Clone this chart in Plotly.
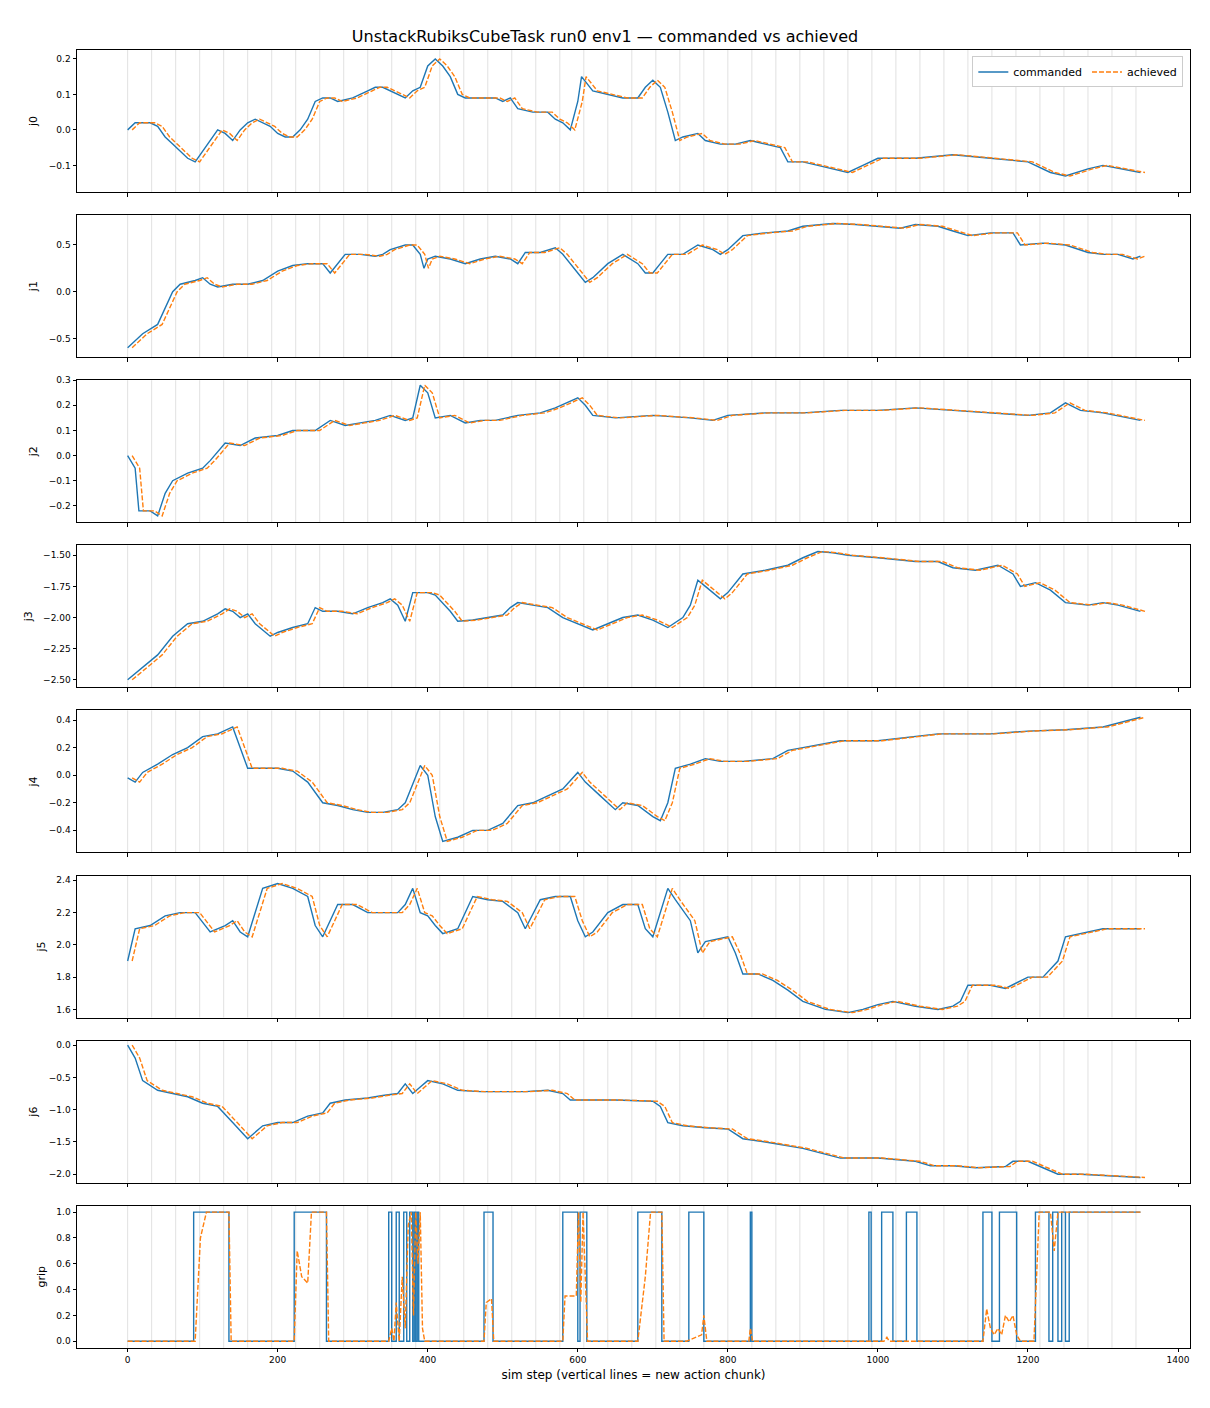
import plotly.graph_objects as go

# ---- data (step, value) ----
j0_x = [0,10,20,30,40,50,60,70,80,90,100,110,120,130,140,150,160,170,180,190,200,210,220,230,240,250,260,270,280,300,320,330,340,350,360,370,380,390,400,410,420,430,440,450,470,490,500,510,520,540,560,570,580,590,600,605,620,640,660,680,690,700,710,720,730,740,760,770,790,810,830,850,870,880,900,920,940,960,980,1000,1050,1100,1150,1200,1230,1250,1280,1300,1350]
j0_y = [0,0.02,0.02,0.02,0.01,-0.02,-0.04,-0.06,-0.08,-0.09,-0.06,-0.03,0.0,-0.01,-0.03,0.0,0.02,0.03,0.02,0.01,-0.01,-0.02,-0.02,0.0,0.03,0.08,0.09,0.09,0.08,0.09,0.11,0.12,0.12,0.11,0.10,0.09,0.11,0.12,0.18,0.2,0.18,0.15,0.1,0.09,0.09,0.09,0.08,0.09,0.06,0.05,0.05,0.03,0.02,0.0,0.08,0.15,0.11,0.1,0.09,0.09,0.12,0.14,0.12,0.05,-0.03,-0.02,-0.01,-0.03,-0.04,-0.04,-0.03,-0.04,-0.05,-0.09,-0.09,-0.1,-0.11,-0.12,-0.1,-0.08,-0.08,-0.07,-0.08,-0.09,-0.12,-0.13,-0.11,-0.1,-0.12]

j1_x = [0,20,40,60,70,90,100,110,120,140,160,180,200,220,240,260,270,280,290,310,330,340,350,370,380,390,395,400,410,430,450,470,490,510,520,530,550,570,580,600,610,620,640,660,680,690,700,710,720,740,760,780,790,800,820,850,880,900,940,970,1000,1030,1050,1080,1100,1120,1150,1180,1190,1220,1250,1280,1300,1320,1340,1350]
j1_y = [-0.6,-0.45,-0.35,0.0,0.08,0.12,0.15,0.08,0.05,0.08,0.08,0.12,0.22,0.28,0.3,0.3,0.2,0.3,0.4,0.4,0.38,0.4,0.45,0.5,0.5,0.4,0.25,0.35,0.38,0.35,0.3,0.35,0.38,0.35,0.3,0.42,0.42,0.47,0.4,0.2,0.1,0.15,0.3,0.4,0.3,0.2,0.2,0.3,0.4,0.4,0.5,0.45,0.4,0.45,0.6,0.63,0.65,0.7,0.73,0.72,0.7,0.68,0.72,0.7,0.65,0.6,0.63,0.63,0.5,0.52,0.5,0.42,0.4,0.4,0.35,0.38]

j2_x = [0,10,15,30,40,50,60,80,100,110,130,150,170,200,220,250,270,290,310,330,350,370,380,390,400,410,430,450,470,490,520,550,570,600,610,620,650,700,750,780,800,850,900,950,1000,1050,1100,1150,1200,1230,1250,1270,1300,1350]
j2_y = [0,-0.05,-0.22,-0.22,-0.24,-0.15,-0.1,-0.07,-0.05,-0.02,0.05,0.04,0.07,0.08,0.1,0.1,0.14,0.12,0.13,0.14,0.16,0.14,0.15,0.28,0.25,0.15,0.16,0.13,0.14,0.14,0.16,0.17,0.19,0.23,0.2,0.16,0.15,0.16,0.15,0.14,0.16,0.17,0.17,0.18,0.18,0.19,0.18,0.17,0.16,0.17,0.21,0.18,0.17,0.14]

j3_x = [0,20,40,60,80,100,120,130,140,150,160,170,190,200,220,240,250,260,280,300,320,340,350,360,370,380,400,410,430,440,460,480,500,510,520,540,560,580,600,620,640,660,680,700,720,740,750,760,770,790,800,820,850,880,900,920,940,960,1000,1050,1080,1100,1130,1160,1180,1190,1210,1230,1250,1280,1300,1320,1350]
j3_y = [-2.5,-2.4,-2.3,-2.15,-2.05,-2.03,-1.97,-1.93,-1.95,-2.0,-1.97,-2.05,-2.15,-2.12,-2.08,-2.05,-1.92,-1.95,-1.95,-1.97,-1.92,-1.88,-1.85,-1.9,-2.03,-1.8,-1.8,-1.82,-1.95,-2.03,-2.02,-2.0,-1.98,-1.92,-1.88,-1.9,-1.92,-2.0,-2.05,-2.1,-2.05,-2.0,-1.98,-2.02,-2.08,-2.0,-1.9,-1.7,-1.75,-1.85,-1.8,-1.65,-1.62,-1.58,-1.52,-1.47,-1.48,-1.5,-1.52,-1.55,-1.55,-1.6,-1.62,-1.58,-1.65,-1.75,-1.72,-1.78,-1.88,-1.9,-1.88,-1.9,-1.95]

j4_x = [0,10,20,40,60,80,100,120,140,150,160,180,200,220,240,260,280,300,320,340,360,370,390,400,410,420,440,460,480,500,520,540,560,580,600,610,630,650,660,680,700,710,720,730,750,770,790,820,860,880,900,950,1000,1050,1080,1100,1150,1200,1250,1300,1350]
j4_y = [-0.02,-0.05,0.02,0.08,0.15,0.2,0.28,0.3,0.35,0.2,0.05,0.05,0.05,0.03,-0.05,-0.2,-0.22,-0.25,-0.27,-0.27,-0.25,-0.2,0.07,0.0,-0.3,-0.48,-0.45,-0.4,-0.4,-0.35,-0.22,-0.2,-0.15,-0.1,0.02,-0.05,-0.15,-0.25,-0.2,-0.22,-0.3,-0.33,-0.2,0.05,0.08,0.12,0.1,0.1,0.12,0.18,0.2,0.25,0.25,0.28,0.3,0.3,0.3,0.32,0.33,0.35,0.42]

j5_x = [0,10,30,50,70,90,110,130,140,150,160,170,180,200,220,240,250,260,270,280,300,320,340,360,370,380,390,400,410,420,440,460,480,500,520,530,550,570,590,600,610,620,640,660,680,690,700,720,730,750,760,770,800,810,820,840,860,880,900,930,960,980,1000,1020,1050,1080,1100,1110,1120,1150,1170,1190,1200,1220,1240,1250,1280,1300,1350]
j5_y = [1.9,2.1,2.12,2.18,2.2,2.2,2.08,2.12,2.15,2.08,2.05,2.2,2.35,2.38,2.35,2.3,2.12,2.05,2.15,2.25,2.25,2.2,2.2,2.2,2.25,2.35,2.2,2.18,2.12,2.07,2.1,2.3,2.28,2.27,2.2,2.1,2.28,2.3,2.3,2.15,2.05,2.08,2.2,2.25,2.25,2.1,2.05,2.35,2.28,2.15,1.95,2.02,2.05,1.95,1.82,1.82,1.78,1.72,1.65,1.6,1.58,1.6,1.63,1.65,1.62,1.6,1.62,1.65,1.75,1.75,1.73,1.78,1.8,1.8,1.9,2.05,2.08,2.1,2.1]

j6_x = [0,10,20,40,60,80,100,120,140,160,180,200,220,240,260,270,290,320,340,360,370,380,390,400,420,440,470,500,530,560,580,590,620,650,700,710,720,740,770,800,820,850,900,950,1000,1050,1070,1100,1130,1170,1180,1200,1220,1240,1270,1300,1350]
j6_y = [0,-0.2,-0.55,-0.7,-0.75,-0.8,-0.9,-0.95,-1.2,-1.45,-1.25,-1.2,-1.2,-1.1,-1.05,-0.9,-0.85,-0.82,-0.78,-0.75,-0.6,-0.75,-0.65,-0.55,-0.6,-0.7,-0.72,-0.72,-0.72,-0.7,-0.75,-0.85,-0.85,-0.85,-0.87,-0.95,-1.2,-1.25,-1.28,-1.3,-1.45,-1.5,-1.6,-1.75,-1.75,-1.8,-1.87,-1.87,-1.9,-1.88,-1.8,-1.8,-1.9,-2.0,-2.0,-2.02,-2.05]

grip_cmd_x = [0,88,135,222,265,348,352,358,362,368,372,376,380,382,384,386,388,392,475,487,580,600,603,612,680,712,748,768,830,832,988,991,1005,1020,1038,1052,1140,1152,1162,1185,1210,1228,1233,1240,1245,1250,1255,1350]
grip_cmd_y = [0,1,0,1,0,1,0,1,0,1,0,1,0,1,0,1,0,0,1,0,1,0,1,0,1,0,1,0,1,0,1,0,1,0,1,0,1,0,1,0,1,0,1,0,1,0,1,1]

grip_ach_x = [0,90,97,105,135,138,222,226,232,240,245,250,265,268,348,352,355,358,362,366,370,374,378,381,384,387,390,393,396,475,478,485,488,580,583,598,601,604,607,610,613,680,690,697,712,715,745,765,768,772,828,830,833,1008,1012,1015,1140,1145,1150,1155,1160,1165,1170,1175,1180,1185,1190,1208,1215,1230,1235,1240,1255,1350]
grip_ach_y = [0,0,0.8,1,1,0,0,0.7,0.5,0.45,1,1,1,0,0,0.1,0,0.3,0,0.5,0.1,0.9,1,0.2,1,0.6,1,0.1,0,0,0.3,0.33,0,0,0.35,0.35,1,0.3,1,0.5,0,0,0.5,1,1,0,0,0.05,0.2,0,0,0.1,0,0,0.03,0,0,0.25,0.1,0.05,0.1,0.05,0.2,0.15,0.2,0.05,0,0,1,1,0.7,1,1,1]

chunk_steps = list(range(0, 1351, 32))

joints = [("j0", j0_x, j0_y), ("j1", j1_x, j1_y), ("j2", j2_x, j2_y), ("j3", j3_x, j3_y),
          ("j4", j4_x, j4_y), ("j5", j5_x, j5_y), ("j6", j6_x, j6_y)]
yticks = [[-0.1, 0.0, 0.1, 0.2], [-0.5, 0.0, 0.5], [-0.2, -0.1, 0.0, 0.1, 0.2, 0.3],
          [-2.5, -2.25, -2.0, -1.75, -1.5], [-0.4, -0.2, 0.0, 0.2, 0.4],
          [1.6, 1.8, 2.0, 2.2, 2.4], [-2.0, -1.5, -1.0, -0.5, 0.0], [0, 0.2, 0.4, 0.6, 0.8, 1.0]]
ytext = [["−0.1", "0.0", "0.1", "0.2"], ["−0.5", "0.0", "0.5"], ["−0.2", "−0.1", "0.0", "0.1", "0.2", "0.3"],
         ["−2.50", "−2.25", "−2.00", "−1.75", "−1.50"], ["−0.4", "−0.2", "0.0", "0.2", "0.4"],
         ["1.6", "1.8", "2.0", "2.2", "2.4"], ["−2.0", "−1.5", "−1.0", "−0.5", "0.0"],
         ["0.0", "0.2", "0.4", "0.6", "0.8", "1.0"]]
yranges = [[-0.175, 0.225], [-0.7, 0.82], [-0.265, 0.3], [-2.56, -1.42], [-0.56, 0.47],
           [1.55, 2.43], [-2.13, 0.07], [-0.05, 1.05]]

BLUE, ORANGE = "#1f77b4", "#ff7f0e"
DASH = "5px,2px"
LAG = 6
fig = go.Figure()
for i in range(8):
    ax = "" if i == 0 else str(i + 1)
    if i < 7:
        name, xs, ys = joints[i]
        fig.add_trace(go.Scatter(x=xs, y=ys, mode="lines", line=dict(color=BLUE, width=1.4),
                                 name="commanded", showlegend=(i == 0), xaxis="x" + ax, yaxis="y" + ax))
        fig.add_trace(go.Scatter(x=[v + LAG for v in xs], y=ys, mode="lines",
                                 line=dict(color=ORANGE, width=1.4, dash=DASH),
                                 name="achieved", showlegend=(i == 0), xaxis="x" + ax, yaxis="y" + ax))
        lab = name
    else:
        fig.add_trace(go.Scatter(x=grip_cmd_x, y=grip_cmd_y, mode="lines", line=dict(color=BLUE, width=1.4, shape="hv"),
                                 showlegend=False, xaxis="x" + ax, yaxis="y" + ax))
        fig.add_trace(go.Scatter(x=grip_ach_x, y=grip_ach_y, mode="lines",
                                 line=dict(color=ORANGE, width=1.4, dash=DASH),
                                 showlegend=False, xaxis="x" + ax, yaxis="y" + ax))
        lab = "grip"
    top = 165.1 * i
    dom = [1 - (top + 142) / 1298, 1 - top / 1298]
    common = dict(showline=True, mirror=True, linecolor="black", linewidth=1, ticks="outside",
                  ticklen=3.5, tickcolor="black", showgrid=False, zeroline=False,
                  tickfont=dict(size=9, color="black"))
    fig.layout["xaxis" + ax] = dict(range=[-67.5, 1416], domain=[0, 1], anchor="y" + ax,
                                    tickvals=[0, 200, 400, 600, 800, 1000, 1200, 1400],
                                    showticklabels=(i == 7), **common)
    fig.layout["yaxis" + ax] = dict(range=yranges[i], domain=dom, anchor="x" + ax,
                                    tickvals=yticks[i], ticktext=ytext[i],
                                    title=dict(text=lab, font=dict(size=11), standoff=8), **common)
    for s in chunk_steps:
        fig.add_shape(type="line", x0=s, x1=s, y0=0, y1=1, xref="x" + ax, yref="y" + ax + " domain",
                      line=dict(color="rgba(128,128,128,0.3)", width=0.8), layer="below")

fig.layout["xaxis8"]["title"] = dict(text="sim step (vertical lines = new action chunk)", font=dict(size=12), standoff=6)
H = 1392
fig.update_layout(
    width=1194, height=H, plot_bgcolor="white", paper_bgcolor="white",
    margin=dict(l=69, r=12, t=42, b=52),
    font=dict(family="DejaVu Sans", color="black"),
    title=dict(text="UnstackRubiksCubeTask run0 env1 — commanded vs achieved", x=0.5, xanchor="center",
               y=1 - 28 / H, yanchor="middle", font=dict(size=16)),
    legend=dict(orientation="h", x=0.994, xanchor="right", y=0.995, yanchor="top",
                bordercolor="#cccccc", borderwidth=1, font=dict(size=11), bgcolor="white"),
)
fig.write_html("out.html")
